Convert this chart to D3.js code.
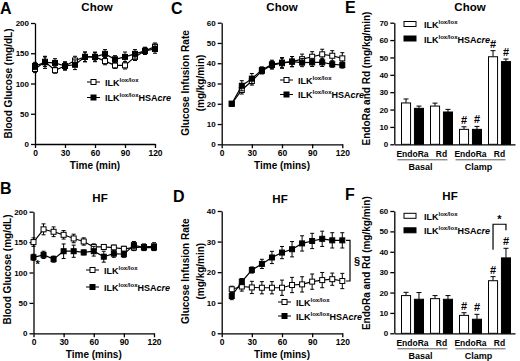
<!DOCTYPE html>
<html>
<head>
<meta charset="utf-8">
<script src="https://cdn.jsdelivr.net/npm/d3@7"></script>
<style>
body { margin: 0; background: #fff; }
text { font-family: Arial, "Liberation Sans", sans-serif; font-weight: bold; fill: #000; }
</style>
</head>
<body>
<script>
// sampling times (min)
var times = [0, 10, 20, 30, 40, 50, 60, 70, 80, 90, 100, 110, 120];
var clampTimes = [10, 20, 30, 40, 50, 60, 70, 80, 90, 100, 110, 120];
var timeTicks = [0, 30, 60, 90, 120];

// A: blood glucose, chow
var chowBgLox = [124, 136, 122, 129, 138, 144, 144, 137, 130, 130, 144, 154, 161];
var chowBgLoxErr = [6, 8, 5, 6, 7, 8, 7, 6, 5, 6, 6, 5, 6];
var chowBgCre = [129, 135, 134, 129, 131, 144, 144, 149, 140, 144, 149, 154, 157];
var chowBgCreErr = [6, 10, 7, 7, 8, 8, 8, 7, 6, 8, 7, 6, 7];

// B: blood glucose, high fat
var hfBgLox = [150, 171, 167, 162, 156, 151, 142, 142, 141, 139, 141, 142, 143];
var hfBgLoxErr = [7, 9, 8, 7, 7, 6, 5, 4, 4, 4, 5, 5, 6];
var hfBgCre = [125, 129, 122, 135, 135, 133, 135, 126, 131, 130, 145, 141, 141];
var hfBgCreErr = [5, 6, 5, 12, 10, 4, 8, 9, 6, 5, 6, 5, 5];

// C: glucose infusion rate, chow
var chowGirLox = [20, 26.8, 31.2, 36.2, 39.1, 40, 40.8, 42, 43.2, 44.4, 43.7, 42.4];
var chowGirLoxErr = [0.8, 2, 2, 1.5, 2, 2.5, 2.5, 2.5, 2.5, 2.5, 2.5, 2.8];
var chowGirCre = [20, 28.9, 32.4, 36.7, 39.5, 40.3, 40.8, 40.3, 40.4, 40.4, 39.5, 39.1];
var chowGirCreErr = [0.8, 2.5, 2.5, 1.5, 2, 2.5, 2.5, 2, 2, 2, 1.5, 1.5];

// D: glucose infusion rate, high fat
var hfGirLox = [14.4, 15.3, 15, 14.9, 14.9, 14.9, 15.8, 16, 16.9, 17.4, 17.7, 17.1];
var hfGirLoxErr = [1, 1.5, 2, 2, 2, 2.5, 2.5, 2.5, 2.5, 2.5, 2, 2.5];
var hfGirCre = [12.2, 16.9, 20.7, 22.7, 24.8, 26.4, 27.5, 29.4, 30.2, 30.9, 30.4, 30.4];
var hfGirCreErr = [1.2, 1, 1, 1.5, 2, 2, 2.5, 2.5, 2.5, 2.5, 2.5, 2.5];

// E/F: EndoRa and Rd bars
var barLabels = ["EndoRa", "Rd", "EndoRa", "Rd"];
var phaseLabels = ["Basal", "Clamp"];
var chowBarLox = [23.8, 22, 8.6, 50.4];
var chowBarLoxErr = [2.3, 1.7, 1.5, 3.5];
var chowBarCre = [20.7, 18.6, 8.6, 47.6];
var chowBarCreErr = [1.3, 1.5, 1.7, 1.5];
var hfBarLox = [18.5, 17, 8.8, 25.8];
var hfBarLoxErr = [1.6, 1.5, 1.3, 2];
var hfBarCre = [16.7, 16.7, 6.9, 37];
var hfBarCreErr = [3.3, 1.8, 2.4, 4.7];
var barMarks = ["", "", "#", "#"];

var svg = d3.select("body").append("svg")
    .attr("width", 520)
    .attr("height", 361);

// ILK lox/lox label, optionally with HSAcre
function genotype(sel, cre) {
    sel.append("tspan").text("ILK");
    sel.append("tspan").attr("dy", -4).attr("font-size", "6px").text("lox/lox");
    if (cre) {
        sel.append("tspan").attr("dy", 4).text("HSA");
        sel.append("tspan").attr("font-style", "italic").text("cre");
    }
}

function styleAxis(g, size) {
    g.select(".domain").attr("stroke-width", 1.3);
    g.selectAll(".tick line").attr("stroke-width", 1.3);
    g.selectAll(".tick text")
        .attr("font-size", size + "px")
        .attr("font-family", "Arial, 'Liberation Sans', sans-serif")
        .attr("font-weight", "bold");
}

function panelText(x, y, size, txt) {
    return svg.append("text")
        .attr("x", x)
        .attr("y", y)
        .attr("font-size", size + "px")
        .attr("text-anchor", "middle")
        .text(txt);
}

function yLabel(x, y, lines) {
    lines.forEach(function(l, i) {
        svg.append("text")
            .attr("transform", "translate(" + (x + i * 15.5) + "," + y + ") rotate(-90)")
            .attr("text-anchor", "middle")
            .attr("font-size", "10px")
            .text(l);
    });
}

function drawSeries(x, y, xs, vals, errs, filled) {
    var pts = xs.map(function(t, i) { return {t: t, v: vals[i], e: errs[i]}; });
    var line = d3.line()
        .x(function(d) { return x(d.t); })
        .y(function(d) { return y(d.v); });
    svg.append("path")
        .datum(pts)
        .attr("d", line)
        .attr("fill", "none")
        .attr("stroke", "#000")
        .attr("stroke-width", 1.2);
    // error bars with caps
    var eb = svg.append("g").attr("stroke", "#000").attr("stroke-width", 1);
    pts.forEach(function(d) {
        eb.append("line")
            .attr("x1", x(d.t)).attr("x2", x(d.t))
            .attr("y1", y(d.v - d.e)).attr("y2", y(d.v + d.e));
        [d.v - d.e, d.v + d.e].forEach(function(c) {
            eb.append("line")
                .attr("x1", x(d.t) - 2).attr("x2", x(d.t) + 2)
                .attr("y1", y(c)).attr("y2", y(c));
        });
    });
    svg.append("g").selectAll("rect")
        .data(pts)
        .enter()
        .append("rect")
        .attr("x", function(d) { return x(d.t) - 2.5; })
        .attr("y", function(d) { return y(d.v) - 2.5; })
        .attr("width", 5)
        .attr("height", 5)
        .attr("fill", filled ? "#000" : "#fff")
        .attr("stroke", "#000")
        .attr("stroke-width", 1);
}

function linePanel(p) {
    var x = d3.scaleLinear().domain([0, 120]).range([p.left, p.right]);
    var y = d3.scaleLinear().domain([0, p.yMax]).range([p.bottom, p.top]);

    var gx = svg.append("g")
        .attr("transform", "translate(0," + p.bottom + ")")
        .call(d3.axisBottom(x).tickValues(timeTicks).tickSize(4).tickSizeOuter(0).tickPadding(2));
    styleAxis(gx, 8.5);
    var gy = svg.append("g")
        .attr("transform", "translate(" + p.left + ",0)")
        .call(d3.axisLeft(y).tickValues(d3.range(0, p.yMax + 1, p.yStep)).tickSize(4).tickSizeOuter(0).tickPadding(2));
    styleAxis(gy, 8);

    drawSeries(x, y, p.xs, p.lox, p.loxErr, false);
    drawSeries(x, y, p.xs, p.cre, p.creErr, true);

    // legend
    [false, true].forEach(function(cre, i) {
        var ly = p.legY + i * p.legGap;
        svg.append("line")
            .attr("x1", p.legX).attr("x2", p.legX + 13)
            .attr("y1", ly).attr("y2", ly)
            .attr("stroke", "#000");
        svg.append("rect")
            .attr("x", p.legX + 4).attr("y", ly - 2.5)
            .attr("width", 5).attr("height", 5)
            .attr("fill", cre ? "#000" : "#fff")
            .attr("stroke", "#000");
        svg.append("text")
            .attr("x", p.legX + 18)
            .attr("y", ly + 3.5)
            .attr("font-size", "9px")
            .call(genotype, cre);
    });

    panelText((p.left + p.right) / 2, p.bottom + 25, 10, p.xLabel);
    yLabel(p.yLabX, (p.top + p.bottom) / 2 + p.yLabDy, p.yLabel);
    panelText(p.titleX, p.titleY, 11.5, p.title);
    svg.append("text").attr("x", p.letterX).attr("y", p.letterY)
        .attr("font-size", "16px").text(p.letter);
    return {x: x, y: y};
}

function barPanel(p) {
    var y = d3.scaleLinear().domain([0, p.yMax]).range([p.bottom, p.top]);
    var xg = d3.scaleBand().domain(d3.range(4)).range([398, 514]);
    var xs = d3.scaleBand().domain(["lox", "cre"]).range([3.5, 25.5]).paddingInner(0.3);

    var gx = svg.append("g")
        .attr("transform", "translate(0," + p.bottom + ")")
        .call(d3.axisBottom(d3.scaleLinear().range([p.left, 515])).ticks(0).tickSize(0));
    styleAxis(gx, 8);
    var gy = svg.append("g")
        .attr("transform", "translate(" + p.left + ",0)")
        .call(d3.axisLeft(y).tickValues(d3.range(0, p.yMax + 1, 10)).tickSize(4).tickSizeOuter(0).tickPadding(2));
    styleAxis(gy, 8);

    var series = [
        {key: "lox", vals: p.lox, errs: p.loxErr, fill: "#fff"},
        {key: "cre", vals: p.cre, errs: p.creErr, fill: "#000"}
    ];
    series.forEach(function(s) {
        s.vals.forEach(function(v, i) {
            var bx = xg(i) + xs(s.key);
            var cx = bx + xs.bandwidth() / 2;
            var top = y(v + s.errs[i]);
            svg.append("line")
                .attr("x1", cx).attr("x2", cx)
                .attr("y1", y(v)).attr("y2", top)
                .attr("stroke", "#000").attr("stroke-width", 1);
            svg.append("line")
                .attr("x1", cx - 2.5).attr("x2", cx + 2.5)
                .attr("y1", top).attr("y2", top)
                .attr("stroke", "#000").attr("stroke-width", 1);
            svg.append("rect")
                .attr("x", bx).attr("y", y(v))
                .attr("width", xs.bandwidth())
                .attr("height", y(0) - y(v))
                .attr("fill", s.fill)
                .attr("stroke", "#000")
                .attr("stroke-width", 1);
            if (barMarks[i]) {
                panelText(cx, top - 3, 11, barMarks[i]).attr("font-weight", "normal");
            }
        });
    });

    // category and phase labels
    barLabels.forEach(function(l, i) {
        panelText(xg(i) + xg.bandwidth() / 2, p.bottom + 13, 8.5, l);
    });
    phaseLabels.forEach(function(l, j) {
        var a = xg(j * 2) + xg.bandwidth() / 2 - 15;
        var b = xg(j * 2 + 1) + xg.bandwidth() / 2 + 6;
        svg.append("line")
            .attr("x1", a).attr("x2", b)
            .attr("y1", p.bottom + 15.5).attr("y2", p.bottom + 15.5)
            .attr("stroke", "#333").attr("stroke-width", 0.8);
        panelText((a + b) / 2 - 2, p.bottom + 26, 9, l);
    });

    // legend
    [false, true].forEach(function(cre, i) {
        var ly = p.legY + i * 14.5;
        svg.append("rect")
            .attr("x", 404).attr("y", ly)
            .attr("width", 12).attr("height", 5)
            .attr("fill", cre ? "#000" : "#fff")
            .attr("stroke", "#000");
        svg.append("text")
            .attr("x", 424)
            .attr("y", ly + 6.5)
            .attr("font-size", "9px")
            .call(genotype, cre);
    });

    yLabel(370, (p.top + p.bottom) / 2 + p.yLabDy, ["EndoRa and Rd (mg/kg/min)"]);
    panelText(p.titleX, p.titleY, 11.5, p.title);
    svg.append("text").attr("x", 345).attr("y", p.letterY)
        .attr("font-size", "16px").text(p.letter);
    return {xg: xg, xs: xs, y: y};
}

// panel A
linePanel({left: 35, right: 155, top: 23, bottom: 144, yMax: 200, yStep: 50,
    xs: times, lox: chowBgLox, loxErr: chowBgLoxErr, cre: chowBgCre, creErr: chowBgCreErr,
    legX: 87, legY: 82, legGap: 15.5, xLabel: "Time (min)", yLabX: 12, yLabDy: 0, yLabel: ["Blood Glucose (mg/dL)"],
    title: "Chow", titleX: 97, titleY: 11, letter: "A", letterX: 0, letterY: 13.5});

// panel B
var b = linePanel({left: 33.5, right: 154, top: 211.7, bottom: 333.3, yMax: 200, yStep: 50,
    xs: times, lox: hfBgLox, loxErr: hfBgLoxErr, cre: hfBgCre, creErr: hfBgCreErr,
    legX: 86, legY: 270, legGap: 17, xLabel: "Time (mins)", yLabX: 11, yLabDy: -3, yLabel: ["Blood Glucose (mg/dL)"],
    title: "HF", titleX: 100, titleY: 202, letter: "B", letterX: 0, letterY: 194});
svg.append("text").attr("x", b.x(0) + 2).attr("y", b.y(hfBgCre[0]) + 11)
    .attr("font-size", "11px").text("*");

// panel C
linePanel({left: 221.7, right: 342.3, top: 22.7, bottom: 144.3, yMax: 60, yStep: 10,
    xs: clampTimes, lox: chowGirLox, loxErr: chowGirLoxErr, cre: chowGirCre, creErr: chowGirCreErr,
    legX: 280, legY: 80, legGap: 14.5, xLabel: "Time (mins)", yLabX: 188.5, yLabDy: -0.5, yLabel: ["Glucose Infusion Rate", "(mg/kg/min)"],
    title: "Chow", titleX: 282, titleY: 10.5, letter: "C", letterX: 171, letterY: 13.5});

// panel D
var d = linePanel({left: 221.7, right: 342.3, top: 211, bottom: 333.3, yMax: 40, yStep: 10,
    xs: clampTimes, lox: hfGirLox, loxErr: hfGirLoxErr, cre: hfGirCre, creErr: hfGirCreErr,
    legX: 278, legY: 302, legGap: 14, xLabel: "Time (mins)", yLabX: 188.5, yLabDy: -1, yLabel: ["Glucose Infusion Rate", "(mg/kg/min)"],
    title: "HF", titleX: 280, titleY: 203, letter: "D", letterX: 173, letterY: 201.5});
// significance bracket between the two HF curves at 120 min
var by1 = d.y(hfGirCre[11]), by2 = d.y(hfGirLox[11]);
svg.append("path")
    .attr("d", "M346," + by1 + "H350V" + by2 + "H346")
    .attr("fill", "none").attr("stroke", "#000").attr("stroke-width", 1.2);
svg.append("text").attr("x", 354).attr("y", (by1 + by2) / 2 + 4)
    .attr("font-size", "11px").text("§");

// panel E
barPanel({left: 394.3, top: 22.7, bottom: 144.3, yMax: 70,
    lox: chowBarLox, loxErr: chowBarLoxErr, cre: chowBarCre, creErr: chowBarCreErr,
    legY: 21.5, yLabDy: -5, title: "Chow", titleX: 470, titleY: 10.7, letter: "E", letterY: 13});

// panel F
var f = barPanel({left: 394.3, top: 211, bottom: 333.3, yMax: 60,
    lox: hfBarLox, loxErr: hfBarLoxErr, cre: hfBarCre, creErr: hfBarCreErr,
    legY: 213.3, yLabDy: -9, title: "HF", titleX: 450, titleY: 200, letter: "F", letterY: 200});
// bracket between clamp Rd bars
var lx = f.xg(3) + f.xs("lox") + f.xs.bandwidth() / 2;
var rx = f.xg(3) + f.xs("cre") + f.xs.bandwidth() / 2;
svg.append("path")
    .attr("d", "M" + lx + "," + f.y(41) + "V" + f.y(53.5) + "H" + rx + "V" + f.y(50.5))
    .attr("fill", "none").attr("stroke", "#000").attr("stroke-width", 1.2);
panelText((lx + rx) / 2, f.y(53.5) - 1, 11, "*");
</script>
</body>
</html>
